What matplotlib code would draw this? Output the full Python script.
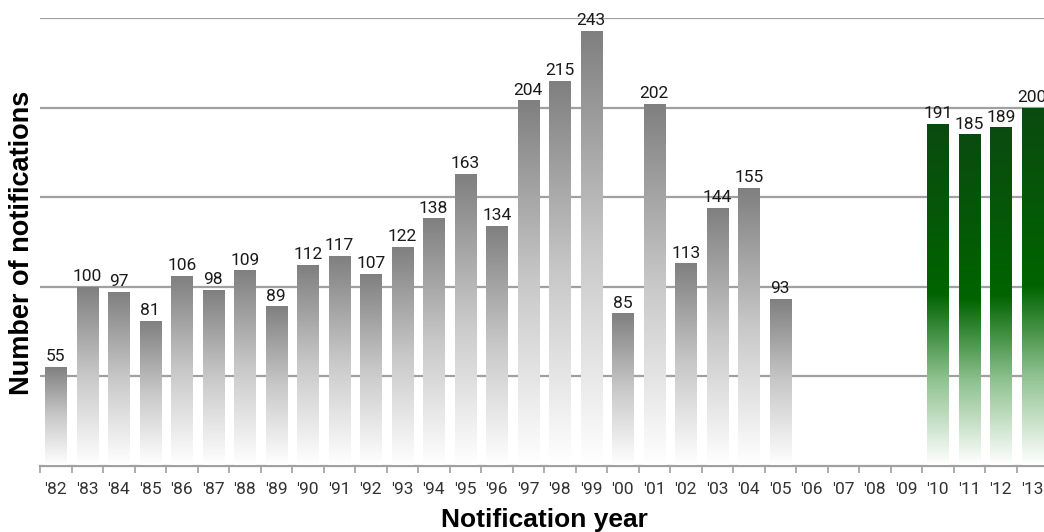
import matplotlib.pyplot as plt
import numpy as np
from matplotlib.colors import LinearSegmentedColormap

years = ["'82", "'83", "'84", "'85", "'86", "'87", "'88", "'89", "'90", "'91",
         "'92", "'93", "'94", "'95", "'96", "'97", "'98", "'99", "'00", "'01",
         "'02", "'03", "'04", "'05", "'06", "'07", "'08", "'09", "'10", "'11",
         "'12", "'13"]
old_counts = [55, 100, 97, 81, 106, 98, 109, 89, 112, 117,
              107, 122, 138, 163, 134, 204, 215, 243, 85, 202,
              113, 144, 155, 93, None, None, None, None, None, None,
              None, None]
new_counts = [None] * 28 + [191, 185, 189, 200]

gray_cmap = LinearSegmentedColormap.from_list('g', ['#ffffff', '#c8c8c8', '#7f7f7f'])
green_cmap = LinearSegmentedColormap.from_list(
    'gr', [(0, '#ffffff'), (0.25, '#8fc290'), (0.5, '#006400'), (1, '#0b4a10')])

fig = plt.figure(figsize=(10.44, 5.32), dpi=100)
ax = fig.add_axes([40 / 1044, (532 - 465.5) / 532, 1008 / 1044, (465.5 - 18) / 532])

x = np.arange(len(years))
grad = np.linspace(0, 1, 256).reshape(-1, 1)


def gradient_bars(vals, cmap):
    xs = [i for i, v in enumerate(vals) if v is not None]
    hs = [v for v in vals if v is not None]
    bars = ax.bar(xs, hs, width=0.67, color='none', edgecolor='none', zorder=3)
    for b, h in zip(bars, hs):
        im = ax.imshow(grad, cmap=cmap, aspect='auto', origin='lower', zorder=3,
                       extent=[b.get_x(), b.get_x() + b.get_width(), 0, b.get_height()])
        im.set_clip_path(b)
        ax.text(b.get_x() + b.get_width() / 2, h + 1.5, str(h), ha='center', va='bottom',
                fontsize=12.5, family='Roboto', color='#1a1a1a', zorder=4)


gradient_bars(old_counts, gray_cmap)
gradient_bars(new_counts, green_cmap)

ax.set_xlim(-0.5, len(years) - 0.5)
ax.set_ylim(0, 250)
ax.set_yticks([50, 100, 150, 200, 250])
ax.yaxis.grid(True, color='#a0a0a0', linewidth=1.6, zorder=1)
ax.set_axisbelow(True)
ax.tick_params(axis='y', left=False, labelleft=False)

ax.set_xticks(x)
ax.set_xticklabels(years, fontsize=12.5, family='Roboto', color='#333333')
ax.set_xticks(np.arange(-0.5, len(years)), minor=True)
ax.tick_params(axis='x', which='major', length=0, pad=12)
ax.tick_params(axis='x', which='minor', length=5, width=1.2, color='#a0a0a0')

for s in ['top', 'right', 'left']:
    ax.spines[s].set_visible(False)
ax.spines['bottom'].set_color('#a0a0a0')
ax.spines['bottom'].set_linewidth(1.6)

fig.text(544 / 1044, 1 - 527 / 532, 'Notification year', ha='center', va='baseline',
         fontsize=19, fontweight='bold', family='Liberation Sans')
fig.text(22 / 1044, 1 - 242.5 / 532, 'Number of notifications', ha='center', va='center',
         rotation=90, fontsize=19.5, fontweight='bold', family='Liberation Sans')

fig.savefig('out.png', dpi=100)
